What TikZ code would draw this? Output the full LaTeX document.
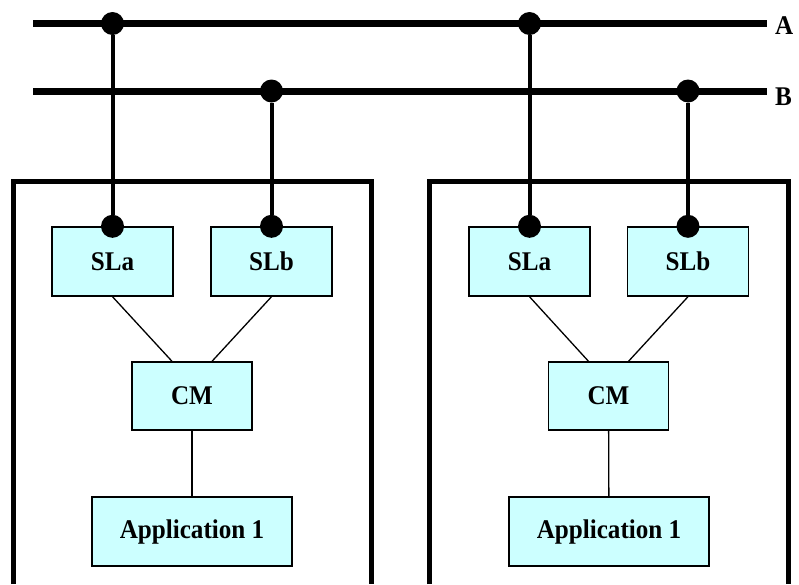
\documentclass[tikz,border=0pt]{standalone}
\usepackage{fontspec}
\setmainfont[FakeStretch=0.93]{Liberation Serif}
\usetikzlibrary{calc}
\definecolor{boxcyan}{HTML}{CCFFFF}
\begin{document}
\begin{tikzpicture}[x=1pt,y=-1pt,
  unitbox/.style={draw=black,line width=1.4pt,fill=boxcyan,rectangle,
    minimum width=121pt,minimum height=69pt,inner sep=0pt,
    font=\fontsize{27}{32}\selectfont\bfseries},
  appbox/.style={unitbox,minimum width=200pt},
  tap/.style={circle,fill=black,draw=none,minimum size=23pt,inner sep=0pt},
  busline/.style={line width=7pt},
  drop/.style={line width=4pt},
  link/.style={line width=1.3pt},
  frame/.style={line width=5pt},
  buslabel/.style={anchor=west,inner sep=0pt,font=\fontsize{27}{32}\selectfont\bfseries}]
\useasboundingbox (0,0) rectangle (799,584);

% outer node frames, open at the bottom edge
\draw[frame] (13.5,584) -- (13.5,181) -- (371,181) -- (371,584);
\draw[frame] (429.5,584) -- (429.5,181) -- (788,181) -- (788,584);

% buses
\coordinate (aStart) at (33,23.5);
\coordinate (aEnd) at (767,23.5);
\coordinate (bStart) at (33,91);
\coordinate (bEnd) at (767,91);
\draw[busline] (aStart) -- (aEnd);
\draw[busline] (bStart) -- (bEnd);
\node[buslabel] (labA) at (775,25.5) {A};
\node[buslabel] (labB) at (775,96.5) {B};

% left node
\node[unitbox] (slaL) at (112.5,261.5) {SLa};
\node[unitbox] (slbL) at (271.5,261.5) {SLb};
\node[unitbox,minimum width=120pt,minimum height=68pt] (cmL) at (192,396) {CM};
\node[appbox] (appL) at (192,531.5) {Application 1};

% right node
\node[unitbox] (slaR) at (529.5,261.5) {SLa};
\node[unitbox] (slbR) at (688,261.5) {SLb};
\node[unitbox,minimum width=120pt,minimum height=68pt] (cmR) at (608.5,396) {CM};
\node[appbox] (appR) at (609,531.5) {Application 1};

% internal links
\draw[link] (slaL.south) -- ($(cmL.north)+(-20,0)$);
\draw[link] (slbL.south) -- ($(cmL.north)+(20,0)$);
\draw[link] (cmL) -- (appL);
\draw[link] (slaR.south) -- ($(cmR.north)+(-20,0)$);
\draw[link] (slbR.south) -- ($(cmR.north)+(20,0)$);
\draw[link] (cmR) -- (appR);

% taps on the buses and on the SL boxes
\node[tap] (tAL) at (112.5,23.5) {};
\node[tap] (tBL) at (271.5,91) {};
\node[tap] (tAR) at (529.5,23.5) {};
\node[tap] (tBR) at (688,91) {};
\node[tap] (pAL) at (slaL.north) {};
\node[tap] (pBL) at (slbL.north) {};
\node[tap] (pAR) at (slaR.north) {};
\node[tap] (pBR) at (slbR.north) {};

% drops from buses to SL boxes
\draw[drop] (tAL) -- (pAL);
\draw[drop] (tBL) -- (pBL);
\draw[drop] (tAR) -- (pAR);
\draw[drop] (tBR) -- (pBR);
\end{tikzpicture}
\end{document}
